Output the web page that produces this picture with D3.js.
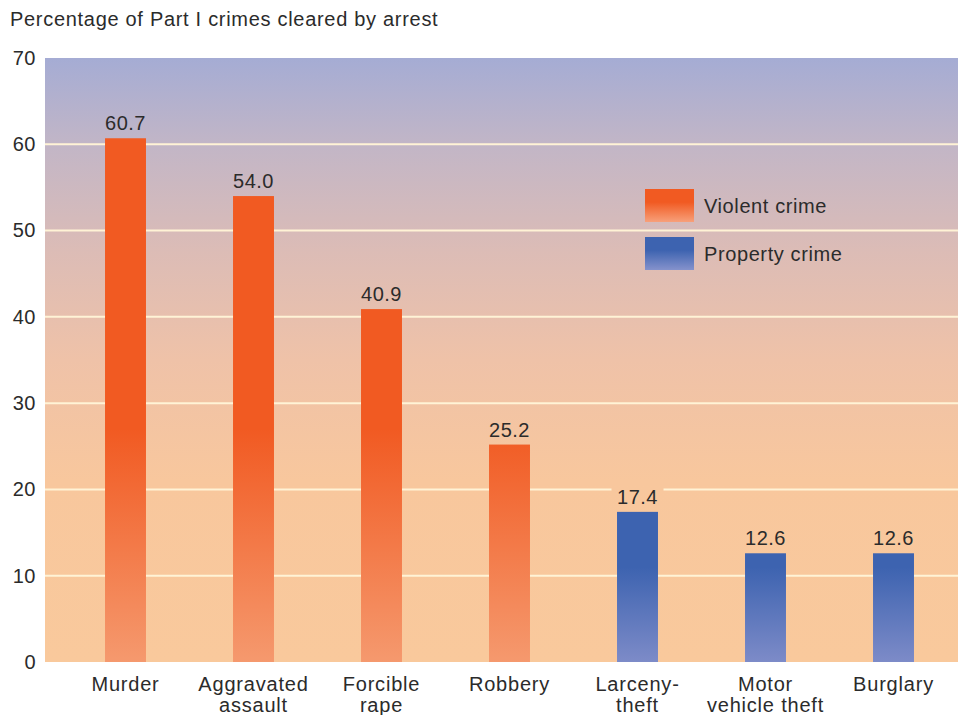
<!DOCTYPE html>
<html>
<head>
<meta charset="utf-8">
<script src="https://cdn.jsdelivr.net/npm/d3@7"></script>
<style>
  body { margin: 0; background: #fff; }
  text { font-family: "Liberation Sans", Arial, sans-serif; fill: #2b2b2b; }
</style>
</head>
<body>
<div id="chart"></div>
<script>
// chart data
var categories = ["Murder", "Aggravated\nassault", "Forcible\nrape", "Robbery",
                  "Larceny-\ntheft", "Motor\nvehicle theft", "Burglary"];
var values = [60.7, 54.0, 40.9, 25.2, 17.4, 12.6, 12.6];
var groups = ["violent", "violent", "violent", "violent",
              "property", "property", "property"];
var yTicks = [0, 10, 20, 30, 40, 50, 60, 70];
var legendLabels = ["Violent crime", "Property crime"];

var width = 958, height = 715;
var plot = { left: 45, right: 958, top: 58, bottom: 662 };

var svg = d3.select('#chart').append('svg')
    .attr('width', width)
    .attr('height', height);

var x = d3.scaleBand()
    .domain(categories)
    .range([61.5, 957.5])
    .paddingInner(0.68)
    .paddingOuter(0.34);

var y = d3.scaleLinear()
    .domain([0, 70])
    .range([plot.bottom, plot.top]);

function centerX(i) {
    return x(categories[i]) + x.bandwidth() / 2;
}

// gradients
var defs = svg.append('defs');

var bg = defs.append('linearGradient')
    .attr('id', 'bg-grad')
    .attr('gradientUnits', 'userSpaceOnUse')
    .attr('x1', 0).attr('x2', 0)
    .attr('y1', plot.top).attr('y2', plot.bottom);
bg.append('stop').attr('offset', '0%').attr('stop-color', '#a5acd4');
bg.append('stop').attr('offset', '15%').attr('stop-color', '#c3b6c6');
bg.append('stop').attr('offset', '32%').attr('stop-color', '#dcbcb6');
bg.append('stop').attr('offset', '50%').attr('stop-color', '#efc2a8');
bg.append('stop').attr('offset', '70%').attr('stop-color', '#f8c79d');
bg.append('stop').attr('offset', '100%').attr('stop-color', '#f9c99c');

var violentGrad = defs.append('linearGradient')
    .attr('id', 'violent-grad')
    .attr('gradientUnits', 'userSpaceOnUse')
    .attr('x1', 0).attr('x2', 0)
    .attr('y1', y(27)).attr('y2', y(0));
violentGrad.append('stop').attr('offset', '0%').attr('stop-color', '#f15a22');
violentGrad.append('stop').attr('offset', '100%').attr('stop-color', '#f5996e');

var propertyGrad = defs.append('linearGradient')
    .attr('id', 'property-grad')
    .attr('gradientUnits', 'userSpaceOnUse')
    .attr('x1', 0).attr('x2', 0)
    .attr('y1', y(11)).attr('y2', y(0));
propertyGrad.append('stop').attr('offset', '0%').attr('stop-color', '#3d63b0');
propertyGrad.append('stop').attr('offset', '100%').attr('stop-color', '#7d8bc8');

// small gradients for legend swatches
var lv = defs.append('linearGradient').attr('id', 'legend-violent')
    .attr('x1', 0).attr('x2', 0).attr('y1', 0).attr('y2', 1);
lv.append('stop').attr('offset', '40%').attr('stop-color', '#f15a22');
lv.append('stop').attr('offset', '100%').attr('stop-color', '#f7a07a');
var lp = defs.append('linearGradient').attr('id', 'legend-property')
    .attr('x1', 0).attr('x2', 0).attr('y1', 0).attr('y2', 1);
lp.append('stop').attr('offset', '40%').attr('stop-color', '#3d63b0');
lp.append('stop').attr('offset', '100%').attr('stop-color', '#8592cc');

// plot background
svg.append('rect')
    .attr('x', plot.left)
    .attr('y', plot.top)
    .attr('width', plot.right - plot.left)
    .attr('height', plot.bottom - plot.top)
    .attr('fill', 'url(#bg-grad)');

// gridlines
svg.append('g')
    .selectAll('line')
    .data(yTicks.filter(function(d) { return d > 0 && d < 70; }))
    .enter().append('line')
    .attr('x1', plot.left).attr('x2', plot.right)
    .attr('y1', function(d) { return y(d); })
    .attr('y2', function(d) { return y(d); })
    .attr('stroke', '#fff3d6')
    .attr('stroke-width', 2);

// y axis
var yAxis = svg.append('g')
    .attr('transform', 'translate(' + plot.left + ',0)')
    .call(d3.axisLeft(y).tickValues(yTicks).tickSize(0).tickPadding(9));
yAxis.select('.domain').remove();
yAxis.selectAll('text')
    .style('font-size', '20px')
    .style('letter-spacing', '0.5px')
    .style('font-family', '"Liberation Sans", Arial, sans-serif')
    .attr('fill', '#2b2b2b');

// bars
svg.append('g')
    .selectAll('rect')
    .data(values)
    .enter().append('rect')
    .attr('x', function(d, i) { return x(categories[i]); })
    .attr('y', function(d) { return y(d); })
    .attr('width', x.bandwidth())
    .attr('height', function(d) { return y(0) - y(d); })
    .attr('fill', function(d, i) {
        return groups[i] === 'violent' ? 'url(#violent-grad)' : 'url(#property-grad)';
    });

// background patches behind value labels (hide gridlines under them)
svg.append('g')
    .selectAll('rect')
    .data(values)
    .enter().append('rect')
    .attr('x', function(d, i) { return centerX(i) - 26; })
    .attr('y', function(d) { return y(d) - 25; })
    .attr('width', 52)
    .attr('height', 20)
    .attr('fill', 'url(#bg-grad)');

// value labels
svg.append('g')
    .selectAll('text')
    .data(values)
    .enter().append('text')
    .attr('text-anchor', 'middle')
    .attr('x', function(d, i) { return centerX(i); })
    .attr('y', function(d) { return y(d) - 8; })
    .style('font-size', '20px')
    .style('letter-spacing', '0.5px')
    .text(function(d) { return d.toFixed(1); });

// category labels
var xl = svg.append('g')
    .selectAll('text')
    .data(categories)
    .enter().append('text')
    .attr('text-anchor', 'middle')
    .attr('x', function(d) { return x(d) + x.bandwidth() / 2; })
    .attr('y', 691)
    .style('font-size', '20px')
    .style('letter-spacing', '0.8px');
xl.selectAll('tspan')
    .data(function(d) { return d.split('\n'); })
    .enter().append('tspan')
    .attr('x', function() { return this.parentNode.getAttribute('x'); })
    .attr('dy', function(d, i) { return i === 0 ? 0 : 21; })
    .text(function(d) { return d; });

// legend
var legend = svg.append('g')
    .selectAll('g')
    .data(legendLabels)
    .enter().append('g')
    .attr('transform', function(d, i) { return 'translate(645,' + (189 + i * 48) + ')'; });
legend.append('rect')
    .attr('width', 49)
    .attr('height', 33)
    .attr('fill', function(d, i) { return i === 0 ? 'url(#legend-violent)' : 'url(#legend-property)'; });
legend.append('text')
    .attr('x', 59)
    .attr('y', 24)
    .style('font-size', '20px')
    .style('letter-spacing', '0.6px')
    .text(function(d) { return d; });

// title
svg.append('text')
    .attr('x', 10)
    .attr('y', 26)
    .style('font-size', '20px')
    .style('letter-spacing', '0.7px')
    .text('Percentage of Part I crimes cleared by arrest');
</script>
</body>
</html>
